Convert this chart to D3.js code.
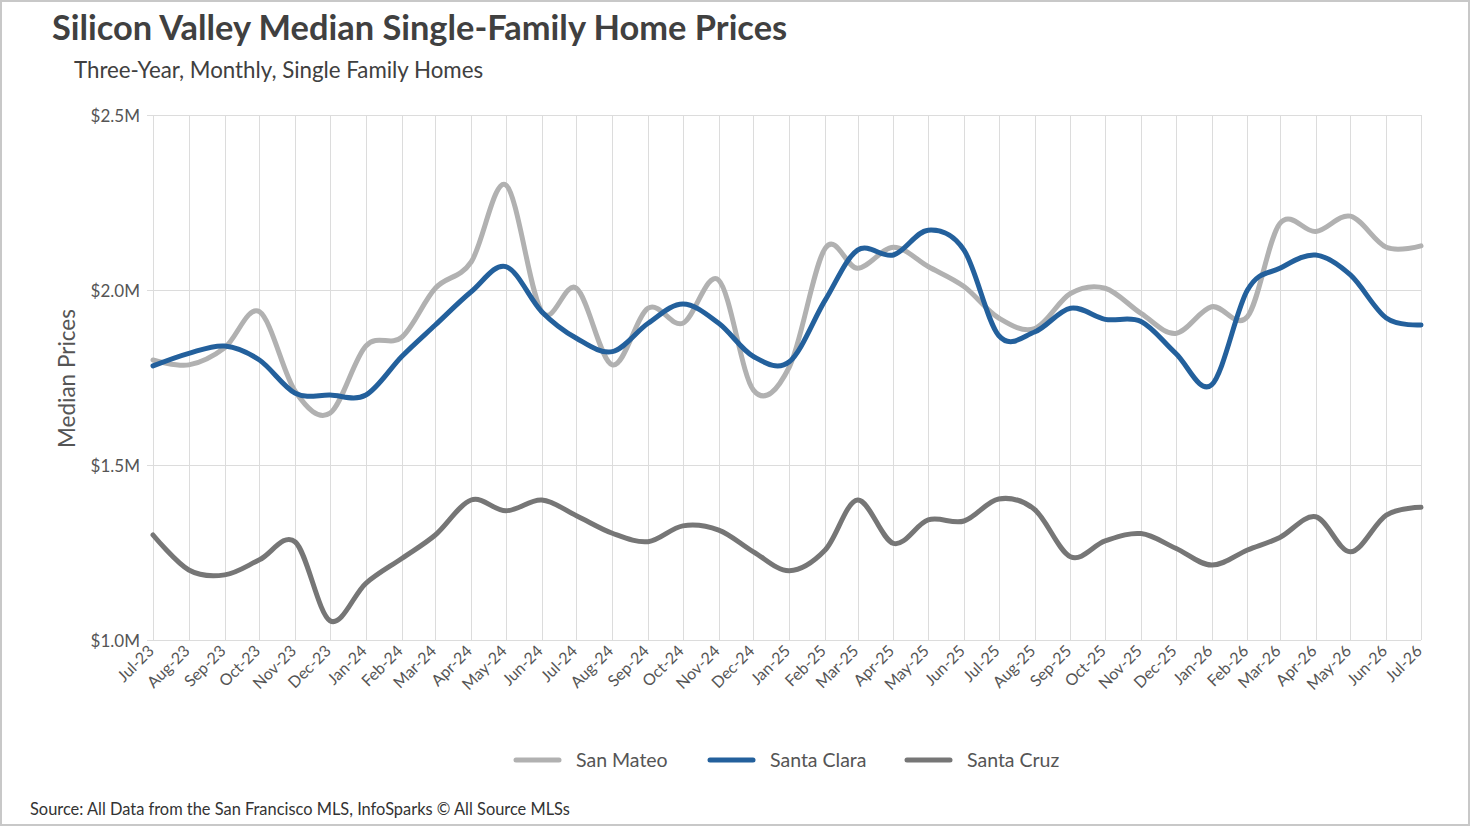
<!DOCTYPE html>
<html>
<head>
<meta charset="utf-8">
<title>Silicon Valley Median Single-Family Home Prices</title>
<script src="https://cdn.jsdelivr.net/npm/d3@7"></script>
<style>
    body { margin: 0; background: #fff; font-family: Lato, "Open Sans", sans-serif; }
    #chart-area { width: 1470px; height: 826px; }
    .grid line { stroke: #dcdcdc; stroke-width: 1; shape-rendering: crispEdges; }
    .grid path { display: none; }
    .tick-label { fill: #555; font-size: 17px; }
    .series { fill: none; stroke-width: 5; stroke-linecap: round; stroke-linejoin: round; }
</style>
</head>
<body>
<div id="chart-area"></div>
<script>

// month labels, Jul-23 .. Jul-26
var months = ["Jul-23","Aug-23","Sep-23","Oct-23","Nov-23","Dec-23","Jan-24","Feb-24","Mar-24","Apr-24","May-24","Jun-24",
    "Jul-24","Aug-24","Sep-24","Oct-24","Nov-24","Dec-24","Jan-25","Feb-25","Mar-25","Apr-25","May-25","Jun-25",
    "Jul-25","Aug-25","Sep-25","Oct-25","Nov-25","Dec-25","Jan-26","Feb-26","Mar-26","Apr-26","May-26","Jun-26","Jul-26"];

// median prices, $M
var sanMateo = [1.80,1.786,1.835,1.938,1.71,1.648,1.84,1.865,2.005,2.08,2.30,1.938,
    2.005,1.786,1.948,1.905,2.028,1.714,1.78,2.119,2.062,2.122,2.067,2.01,
    1.92,1.89,1.99,2.005,1.933,1.876,1.952,1.924,2.19,2.167,2.211,2.122,2.126];

var santaClara = [1.783,1.819,1.84,1.80,1.705,1.70,1.70,1.81,1.90,1.995,2.067,1.938,
    1.862,1.824,1.905,1.96,1.905,1.81,1.795,1.971,2.114,2.10,2.171,2.114,
    1.87,1.88,1.948,1.916,1.91,1.819,1.729,2.0,2.062,2.10,2.043,1.92,1.90];

var santaCruz = [1.30,1.20,1.186,1.229,1.28,1.055,1.162,1.233,1.30,1.40,1.369,1.40,
    1.355,1.305,1.281,1.326,1.314,1.252,1.198,1.257,1.40,1.276,1.343,1.34,
    1.403,1.373,1.238,1.283,1.304,1.262,1.214,1.257,1.293,1.352,1.252,1.357,1.379];

var seriesNames = ["San Mateo", "Santa Clara", "Santa Cruz"];
var seriesColors = ["#b1b1b1", "#23609c", "#767676"];

var yTicks = [1.0, 1.5, 2.0, 2.5];


/*
 * PriceChart - Object constructor function
 * @param _parentElement -- the HTML element in which to draw the chart
 */
PriceChart = function(_parentElement) {
    this.parentElement = _parentElement;
    this.initVis();
};


PriceChart.prototype.initVis = function() {
    var vis = this;

    vis.width = 1470;
    vis.height = 826;
    vis.margin = { top: 115, right: 49, bottom: 186, left: 153 };

    vis.svg = d3.select(vis.parentElement)
        .append("svg")
        .attr("width", vis.width)
        .attr("height", vis.height);

    // outer frame
    vis.svg.append("rect")
        .attr("x", 1).attr("y", 1)
        .attr("width", vis.width - 2).attr("height", vis.height - 2)
        .attr("fill", "#fff")
        .attr("stroke", "#c8c8c8")
        .attr("stroke-width", 2);

    vis.parseMonth = d3.timeParse("%b-%y");
    vis.dates = months.map(function(m) { return vis.parseMonth(m); });

    // time scale, so months get their true widths
    vis.x = d3.scaleTime()
        .domain(d3.extent(vis.dates))
        .range([vis.margin.left, vis.width - vis.margin.right]);

    vis.y = d3.scaleLinear()
        .domain([1.0, 2.5])
        .range([vis.height - vis.margin.bottom, vis.margin.top]);

    vis.wrangleData();
};


PriceChart.prototype.wrangleData = function() {
    var vis = this;

    vis.series = [sanMateo, santaClara, santaCruz].map(function(values, i) {
        return {
            name: seriesNames[i],
            color: seriesColors[i],
            values: values.map(function(v, j) { return { date: vis.dates[j], value: v }; })
        };
    });

    vis.updateVis();
};


PriceChart.prototype.updateVis = function() {
    var vis = this;
    var plotBottom = vis.height - vis.margin.bottom;
    var plotRight = vis.width - vis.margin.right;

    // vertical grid
    vis.svg.append("g")
        .attr("class", "grid")
        .attr("transform", "translate(0," + plotBottom + ")")
        .call(d3.axisBottom(vis.x)
            .tickValues(vis.dates)
            .tickSize(-(plotBottom - vis.margin.top))
            .tickFormat(""));

    // horizontal grid, with a short tick to the left
    vis.svg.append("g")
        .attr("class", "grid")
        .attr("transform", "translate(" + plotRight + ",0)")
        .call(d3.axisLeft(vis.y)
            .tickValues(yTicks)
            .tickSize(plotRight - vis.margin.left + 6)
            .tickFormat(""));

    // y labels
    vis.svg.selectAll(".y-label")
        .data(yTicks)
        .enter()
        .append("text")
        .attr("class", "tick-label")
        .attr("text-anchor", "end")
        .attr("x", vis.margin.left - 13)
        .attr("y", function(d) { return vis.y(d) + 7; })
        .text(function(d) { return "$" + d3.format(".1f")(d) + "M"; });

    // x labels, rotated
    vis.svg.selectAll(".x-label")
        .data(vis.dates)
        .enter()
        .append("text")
        .attr("class", "tick-label")
        .style("font-size", "16px")
        .attr("text-anchor", "end")
        .attr("transform", function(d) {
            return "translate(" + (vis.x(d) + 2) + "," + (plotBottom + 12) + ") rotate(-45)";
        })
        .text(function(d, i) { return months[i]; });

    // axis title
    vis.svg.append("text")
        .attr("transform", "translate(75," + ((vis.margin.top + plotBottom) / 2 + 1) + ") rotate(-90)")
        .attr("text-anchor", "middle")
        .attr("fill", "#555")
        .style("font-size", "22.5px")
        .text("Median Prices");

    // lines
    vis.line = d3.line()
        .curve(d3.curveCardinal)
        .x(function(d) { return vis.x(d.date); })
        .y(function(d) { return vis.y(d.value); });

    vis.svg.selectAll(".series")
        .data(vis.series)
        .enter()
        .append("path")
        .attr("class", "series")
        .attr("stroke", function(d) { return d.color; })
        .attr("d", function(d) { return vis.line(d.values); });

    // titles
    vis.svg.append("text")
        .attr("x", 52).attr("y", 40)
        .attr("fill", "#404040")
        .style("font-size", "34.4px")
        .style("font-weight", "bold")
        .text("Silicon Valley Median Single-Family Home Prices");

    vis.svg.append("text")
        .attr("x", 74).attr("y", 78)
        .attr("fill", "#404040")
        .style("font-size", "22.3px")
        .text("Three-Year, Monthly, Single Family Homes");

    // legend
    var legendX = [514, 708, 905];
    var legend = vis.svg.selectAll(".legend")
        .data(vis.series)
        .enter()
        .append("g")
        .attr("class", "legend")
        .attr("transform", function(d, i) { return "translate(" + legendX[i] + ",760)"; });

    legend.append("line")
        .attr("x1", 2).attr("x2", 45)
        .attr("stroke", function(d) { return d.color; })
        .attr("stroke-width", 5)
        .attr("stroke-linecap", "round");

    legend.append("text")
        .attr("x", 62).attr("y", 7)
        .attr("fill", "#555")
        .style("font-size", "19.5px")
        .text(function(d) { return d.name; });

    // source
    vis.svg.append("text")
        .attr("x", 30).attr("y", 815)
        .attr("fill", "#333")
        .style("font-size", "16.4px")
        .text("Source: All Data from the San Francisco MLS, InfoSparks \u00a9 All Source MLSs");
};


var chart = new PriceChart("#chart-area");

</script>
</body>
</html>
